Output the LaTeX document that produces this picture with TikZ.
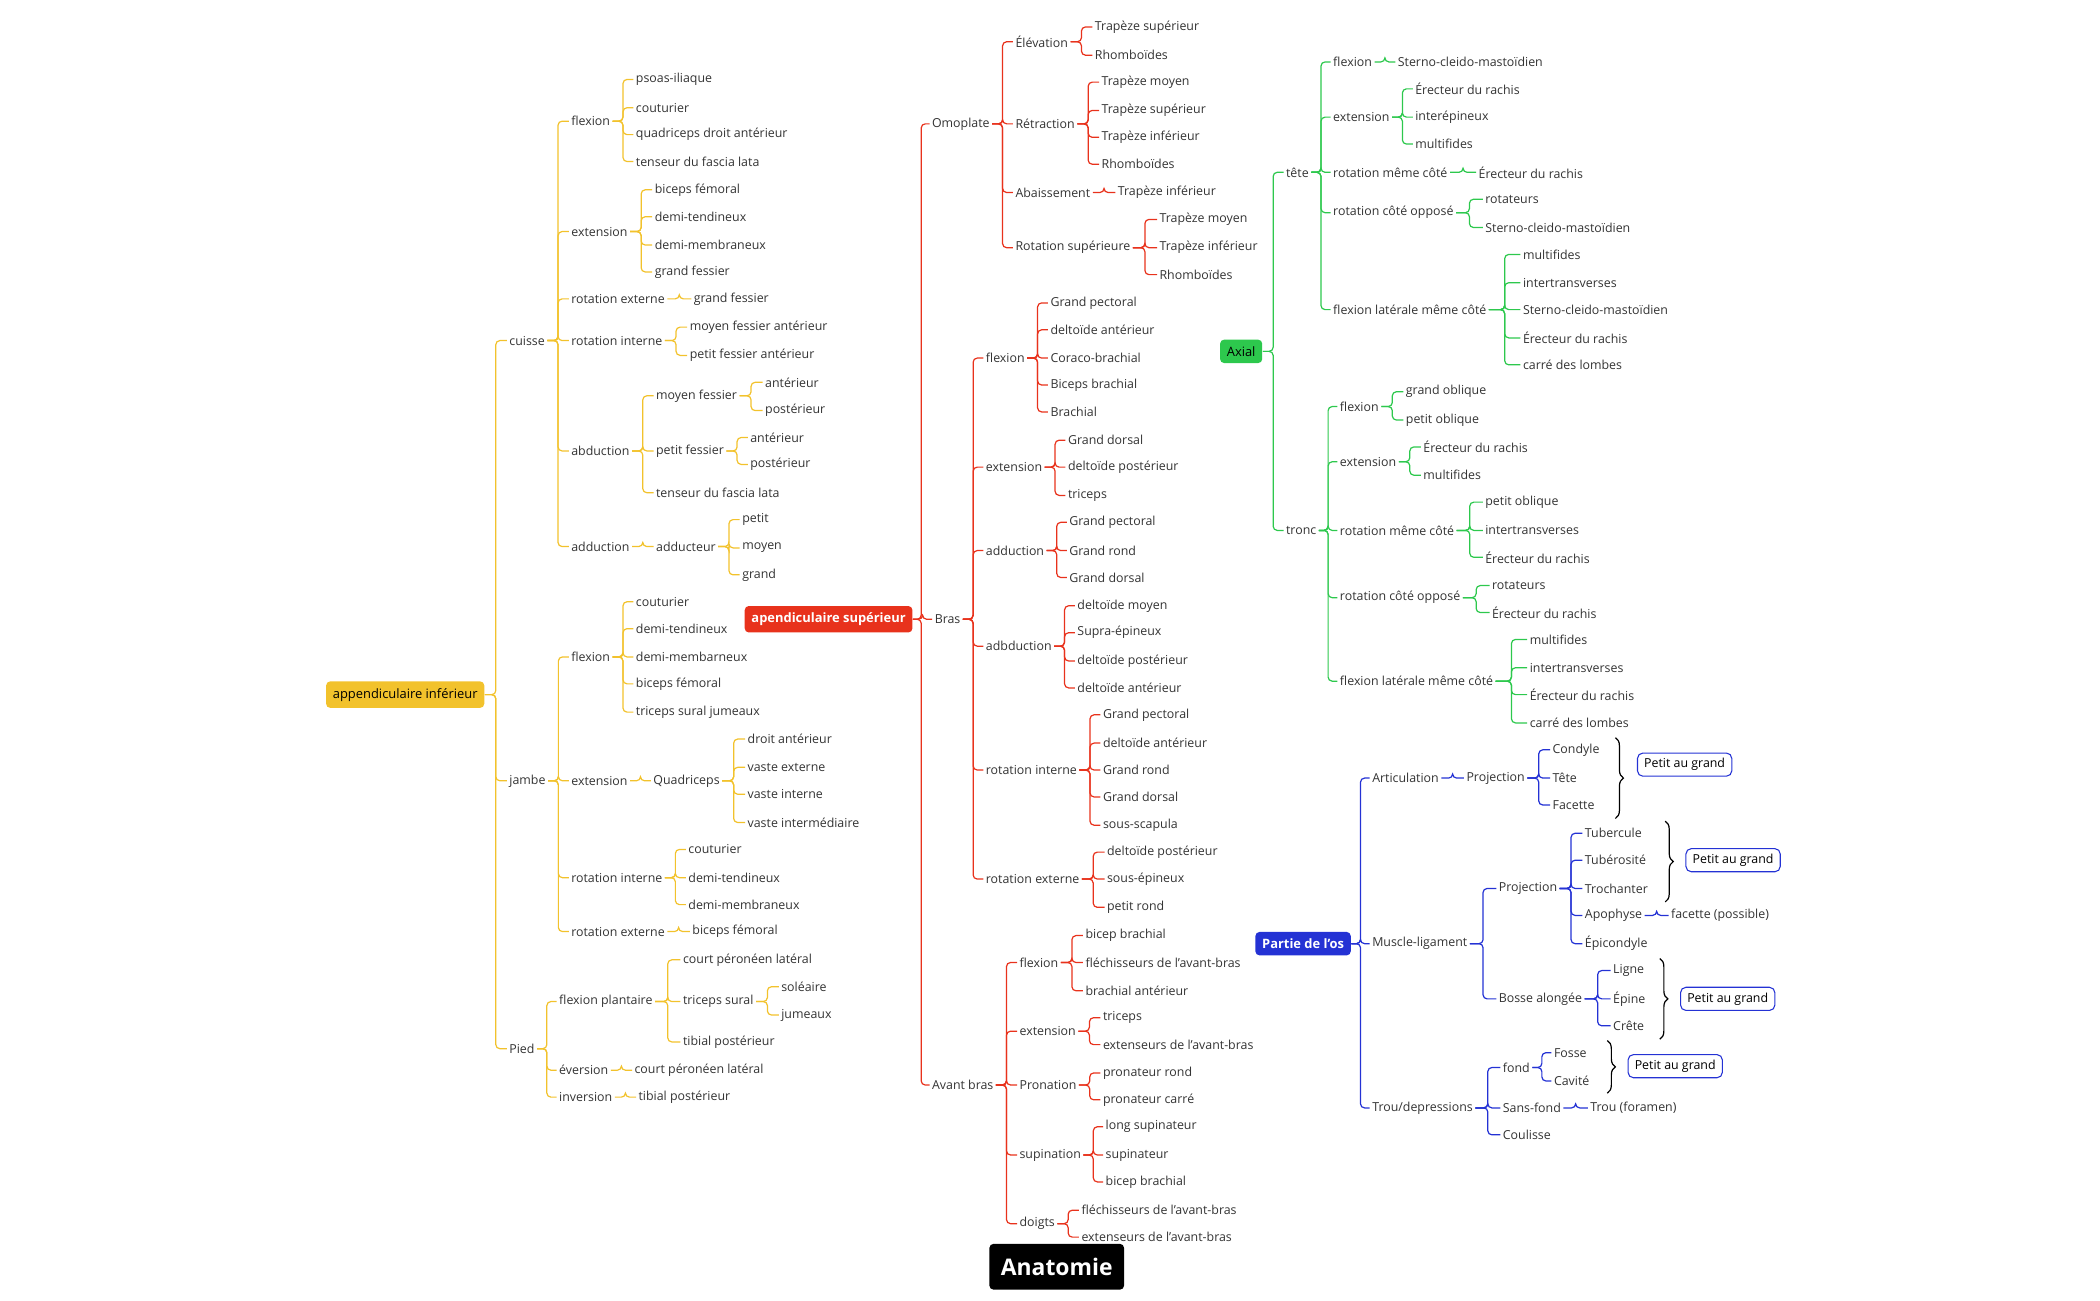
\documentclass[tikz,border=0pt]{standalone}
\usepackage{fontspec}
\setmainfont{Open Sans}
\usetikzlibrary{calc,decorations.pathreplacing}
\definecolor{yel}{HTML}{F2C22C}
\definecolor{rd}{HTML}{E8321C}
\definecolor{gr}{HTML}{2DC84D}
\definecolor{bl}{HTML}{2432D4}
\colorlet{cur}{yel}
\tikzset{
 lbl/.style={anchor=west,inner sep=0.75pt,font=\fontsize{4.6}{5.5}\selectfont,text=black!80},
 edge/.style={draw=cur,line width=0.45pt,rounded corners=1.5pt},
 rootbox/.style={rounded corners=1.5pt,inner sep=2.5pt,font=\fontsize{4.8}{5.5}\selectfont},
 pbox/.style={draw=bl,rounded corners=2pt,inner xsep=2.5pt,inner ysep=2pt,font=\fontsize{4.6}{5.5}\selectfont,anchor=west},
 brc/.style={decorate,decoration={brace,amplitude=3pt},line width=0.45pt}
}
\newcommand\kid[5]{\node[lbl] (#1) at (#2-1.5,#3) {#4};
 \draw[edge] let \p1=(#5.east),\p2=(#1.west) in (\p1) -- ({(\x1+\x2)/2},\y1) |- (\p2);}
\begin{document}
\begin{tikzpicture}[x=0.5pt,y=-0.5pt]
\useasboundingbox (0,0) rectangle (1560,966);
% ---------------- yellow
\colorlet{cur}{yel}
\node[rootbox,fill=yel] (Y) at (301,516) {appendiculaire inférieur};
\kid{Yc}{378}{253}{cuisse}{Y}
\kid{Yj}{378}{580}{jambe}{Y}
\kid{Yp}{378}{779}{Pied}{Y}
\kid{Ycf}{424}{90}{flexion}{Yc}
\kid{Yce}{424}{172}{extension}{Yc}
\kid{Ycre}{424}{222}{rotation externe}{Yc}
\kid{Ycri}{424}{253}{rotation interne}{Yc}
\kid{Ycab}{424}{335}{abduction}{Yc}
\kid{Ycad}{424}{406}{adduction}{Yc}
\kid{a1}{472}{59}{psoas-iliaque}{Ycf}
\kid{a2}{472}{80}{couturier}{Ycf}
\kid{a3}{472}{100}{quadriceps droit antérieur}{Ycf}
\kid{a4}{472}{120}{tenseur du fascia lata}{Ycf}
\kid{b1}{486}{141}{biceps fémoral}{Yce}
\kid{b2}{486}{161}{demi-tendineux}{Yce}
\kid{b3}{486}{182}{demi-membraneux}{Yce}
\kid{b4}{486}{202}{grand fessier}{Yce}
\kid{c1}{515}{222}{grand fessier}{Ycre}
\kid{d1}{512}{243}{moyen fessier antérieur}{Ycri}
\kid{d2}{512}{264}{petit fessier antérieur}{Ycri}
\kid{e1}{487}{294}{moyen fessier}{Ycab}
\kid{e2}{487}{335}{petit fessier}{Ycab}
\kid{e3}{487}{366}{tenseur du fascia lata}{Ycab}
\kid{e11}{568}{284}{antérieur}{e1}
\kid{e12}{568}{305}{postérieur}{e1}
\kid{e21}{557}{325}{antérieur}{e2}
\kid{e22}{557}{345}{postérieur}{e2}
\kid{f1}{487}{406}{adducteur}{Ycad}
\kid{f11}{551}{386}{petit}{f1}
\kid{f12}{551}{407}{moyen}{f1}
\kid{f13}{551}{427}{grand}{f1}
\kid{Yjf}{424}{488}{flexion}{Yj}
\kid{Yje}{424}{580}{extension}{Yj}
\kid{Yjri}{424}{652}{rotation interne}{Yj}
\kid{Yjre}{424}{692}{rotation externe}{Yj}
\kid{g1}{472}{447}{couturier}{Yjf}
\kid{g2}{472}{467}{demi-tendineux}{Yjf}
\kid{g3}{472}{488}{demi-membarneux}{Yjf}
\kid{g4}{472}{508}{biceps fémoral}{Yjf}
\kid{g5}{472}{529}{triceps sural jumeaux}{Yjf}
\kid{h1}{485}{580}{Quadriceps}{Yje}
\kid{h11}{555}{549}{droit antérieur}{h1}
\kid{h12}{555}{570}{vaste externe}{h1}
\kid{h13}{555}{590}{vaste interne}{h1}
\kid{h14}{555}{611}{vaste intermédiaire}{h1}
\kid{i1}{511}{631}{couturier}{Yjri}
\kid{i2}{511}{652}{demi-tendineux}{Yjri}
\kid{i3}{511}{672}{demi-membraneux}{Yjri}
\kid{j1}{514}{692}{biceps fémoral}{Yjre}
\kid{Ypf}{415}{744}{flexion plantaire}{Yp}
\kid{Ype}{415}{795}{éversion}{Yp}
\kid{Ypi}{415}{815}{inversion}{Yp}
\kid{k1}{507}{713}{court péronéen latéral}{Ypf}
\kid{k2}{507}{744}{triceps sural}{Ypf}
\kid{k3}{507}{774}{tibial postérieur}{Ypf}
\kid{k21}{580}{733}{soléaire}{k2}
\kid{k22}{580}{754}{jumeaux}{k2}
\kid{l1}{471}{795}{court péronéen latéral}{Ype}
\kid{m1}{474}{815}{tibial postérieur}{Ypi}
% ---------------- red
\colorlet{cur}{rd}
\node[rootbox,fill=rd,text=white,font=\fontsize{4.8}{5.5}\selectfont\bfseries] (R) at (615.5,460) {apendiculaire supérieur};
\kid{Ro}{692}{92}{Omoplate}{R}
\kid{Rb}{694}{460}{Bras}{R}
\kid{Ra}{692}{806}{Avant bras}{R}
\kid{Roe}{754}{31}{Élévation}{Ro}
\kid{Ror}{754}{92}{Rétraction}{Ro}
\kid{Roa}{754}{143}{Abaissement}{Ro}
\kid{Ros}{754}{184}{Rotation supérieure}{Ro}
\kid{n1}{813}{20}{Trapèze supérieur}{Roe}
\kid{n2}{813}{41}{Rhomboïdes}{Roe}
\kid{o1}{818}{61}{Trapèze moyen}{Ror}
\kid{o2}{818}{82}{Trapèze supérieur}{Ror}
\kid{o3}{818}{102}{Trapèze inférieur}{Ror}
\kid{o4}{818}{122}{Rhomboïdes}{Ror}
\kid{p1}{830}{143}{Trapèze inférieur}{Roa}
\kid{q1}{861}{163}{Trapèze moyen}{Ros}
\kid{q2}{861}{184}{Trapèze inférieur}{Ros}
\kid{q3}{861}{204}{Rhomboïdes}{Ros}
\kid{Rbf}{732}{266}{flexion}{Rb}
\kid{Rbe}{732}{347}{extension}{Rb}
\kid{Rbad}{732}{409}{adduction}{Rb}
\kid{Rbab}{732}{480}{adbduction}{Rb}
\kid{Rbri}{732}{572}{rotation interne}{Rb}
\kid{Rbre}{732}{653}{rotation externe}{Rb}
\kid{r1}{780}{225}{Grand pectoral}{Rbf}
\kid{r2}{780}{245}{deltoïde antérieur}{Rbf}
\kid{r3}{780}{266}{Coraco-brachial}{Rbf}
\kid{r4}{780}{286}{Biceps brachial}{Rbf}
\kid{r5}{780}{306}{Brachial}{Rbf}
\kid{s1}{793}{327}{Grand dorsal}{Rbe}
\kid{s2}{793}{347}{deltoïde postérieur}{Rbe}
\kid{s3}{793}{368}{triceps}{Rbe}
\kid{t1}{794}{388}{Grand pectoral}{Rbad}
\kid{t2}{794}{409}{Grand rond}{Rbad}
\kid{t3}{794}{429}{Grand dorsal}{Rbad}
\kid{u1}{800}{450}{deltoïde moyen}{Rbab}
\kid{u2}{800}{470}{Supra-épineux}{Rbab}
\kid{u3}{800}{491}{deltoïde postérieur}{Rbab}
\kid{u4}{800}{511}{deltoïde antérieur}{Rbab}
\kid{v1}{819}{531}{Grand pectoral}{Rbri}
\kid{v2}{819}{552}{deltoïde antérieur}{Rbri}
\kid{v3}{819}{572}{Grand rond}{Rbri}
\kid{v4}{819}{592}{Grand dorsal}{Rbri}
\kid{v5}{819}{613}{sous-scapula}{Rbri}
\kid{w1}{822}{633}{deltoïde postérieur}{Rbre}
\kid{w2}{822}{653}{sous-épineux}{Rbre}
\kid{w3}{822}{674}{petit rond}{Rbre}
\kid{Raf}{757}{715}{flexion}{Ra}
\kid{Rae}{757}{766}{extension}{Ra}
\kid{Rap}{757}{806}{Pronation}{Ra}
\kid{Ras}{757}{858}{supination}{Ra}
\kid{Rad}{757}{909}{doigts}{Ra}
\kid{x1}{806}{695}{bicep brachial}{Raf}
\kid{x2}{806}{715}{fléchisseurs de l'avant-bras}{Raf}
\kid{x3}{806}{736}{brachial antérieur}{Raf}
\kid{y1}{819}{756}{triceps}{Rae}
\kid{y2}{819}{776}{extenseurs de l'avant-bras}{Rae}
\kid{z1}{819}{797}{pronateur rond}{Rap}
\kid{z2}{819}{817}{pronateur carré}{Rap}
\kid{aa1}{821}{837}{long supinateur}{Ras}
\kid{aa2}{821}{858}{supinateur}{Ras}
\kid{aa3}{821}{878}{bicep brachial}{Ras}
\kid{ab1}{803}{899}{fléchisseurs de l'avant-bras}{Rad}
\kid{ab2}{803}{919}{extenseurs de l'avant-bras}{Rad}
% ---------------- green
\colorlet{cur}{gr}
\node[rootbox,fill=gr] (G) at (922,261) {Axial};
\kid{Gt}{955}{128}{tête}{G}
\kid{Gr}{955}{394}{tronc}{G}
\kid{Gtf}{990}{46}{flexion}{Gt}
\kid{Gte}{990}{87}{extension}{Gt}
\kid{Gtm}{990}{128}{rotation même côté}{Gt}
\kid{Gto}{990}{158}{rotation côté opposé}{Gt}
\kid{Gtl}{990}{230}{flexion latérale même côté}{Gt}
\kid{ga1}{1038}{46}{Sterno-cleido-mastoïdien}{Gtf}
\kid{gb1}{1051}{66}{Érecteur du rachis}{Gte}
\kid{gb2}{1051}{87}{interépineux}{Gte}
\kid{gb3}{1051}{107}{multifides}{Gte}
\kid{gc1}{1098}{128}{Érecteur du rachis}{Gtm}
\kid{gd1}{1103}{148}{rotateurs}{Gto}
\kid{gd2}{1103}{169}{Sterno-cleido-mastoïdien}{Gto}
\kid{ge1}{1131}{189}{multifides}{Gtl}
\kid{ge2}{1131}{210}{intertransverses}{Gtl}
\kid{ge3}{1131}{230}{Sterno-cleido-mastoïdien}{Gtl}
\kid{ge4}{1131}{251}{Érecteur du rachis}{Gtl}
\kid{ge5}{1131}{271}{carré des lombes}{Gtl}
\kid{Grf}{995}{302}{flexion}{Gr}
\kid{Gre}{995}{343}{extension}{Gr}
\kid{Grm}{995}{394}{rotation même côté}{Gr}
\kid{Gro}{995}{444}{rotation côté opposé}{Gr}
\kid{Grl}{995}{506}{flexion latérale même côté}{Gr}
\kid{gf1}{1044}{291}{grand oblique}{Grf}
\kid{gf2}{1044}{312}{petit oblique}{Grf}
\kid{gg1}{1057}{332}{Érecteur du rachis}{Gre}
\kid{gg2}{1057}{353}{multifides}{Gre}
\kid{gh1}{1103}{373}{petit oblique}{Grm}
\kid{gh2}{1103}{394}{intertransverses}{Grm}
\kid{gh3}{1103}{414}{Érecteur du rachis}{Grm}
\kid{gi1}{1108}{435}{rotateurs}{Gro}
\kid{gi2}{1108}{455}{Érecteur du rachis}{Gro}
\kid{gj1}{1136}{475}{multifides}{Grl}
\kid{gj2}{1136}{496}{intertransverses}{Grl}
\kid{gj3}{1136}{516}{Érecteur du rachis}{Grl}
\kid{gj4}{1136}{537}{carré des lombes}{Grl}
% ---------------- blue
\colorlet{cur}{bl}
\node[rootbox,fill=bl,text=white,font=\fontsize{4.8}{5.5}\selectfont\bfseries] (B) at (968,701) {Partie de l'os};
\kid{Ba}{1019}{578}{Articulation}{B}
\kid{Bm}{1019}{701}{Muscle-ligament}{B}
\kid{Bt}{1019}{823}{Trou/depressions}{B}
\kid{Bap}{1089}{578}{Projection}{Ba}
\kid{ba1}{1153}{557}{Condyle}{Bap}
\kid{ba2}{1153}{578}{Tête}{Bap}
\kid{ba3}{1153}{598}{Facette}{Bap}
\kid{Bmp}{1113}{660}{Projection}{Bm}
\kid{Bmb}{1113}{742}{Bosse alongée}{Bm}
\kid{bb1}{1177}{619}{Tubercule}{Bmp}
\kid{bb2}{1177}{639}{Tubérosité}{Bmp}
\kid{bb3}{1177}{660}{Trochanter}{Bmp}
\kid{bb4}{1177}{680}{Apophyse}{Bmp}
\kid{bb5}{1177}{701}{Épicondyle}{Bmp}
\kid{bb41}{1241}{680}{facette (possible)}{bb4}
\kid{bc1}{1198}{721}{Ligne}{Bmb}
\kid{bc2}{1198}{742}{Épine}{Bmb}
\kid{bc3}{1198}{762}{Crête}{Bmb}
\kid{Btf}{1116}{793}{fond}{Bt}
\kid{Bts}{1116}{823}{Sans-fond}{Bt}
\kid{Btc}{1116}{843}{Coulisse}{Bt}
\kid{bd1}{1154}{782}{Fosse}{Btf}
\kid{bd2}{1154}{803}{Cavité}{Btf}
\kid{be1}{1181}{823}{Trou (foramen)}{Bts}
% braces and boxes
\coordinate (br1a) at (1200,548); \coordinate (br1b) at (1200,608);
\draw[brc] (br1a) -- (br1b);
\node[pbox] (pg1) at (1216,568) {Petit au grand};
\coordinate (br2a) at (1237,610); \coordinate (br2b) at (1237,670);
\draw[brc] (br2a) -- (br2b);
\node[pbox] (pg2) at (1252,639) {Petit au grand};
\coordinate (br3a) at (1233,712); \coordinate (br3b) at (1233,772);
\draw[brc] (br3a) -- (br3b);
\node[pbox] (pg3) at (1248,742) {Petit au grand};
\coordinate (br4a) at (1194,773); \coordinate (br4b) at (1194,812);
\draw[brc] (br4a) -- (br4b);
\node[pbox] (pg4) at (1209,792) {Petit au grand};
% title
\node[fill=black,text=white,rounded corners=1.5pt,minimum width=50pt,minimum height=17pt,font=\fontsize{8.5}{10}\selectfont\bfseries] (T) at (785,941) {Anatomie};
\end{tikzpicture}
\end{document}
